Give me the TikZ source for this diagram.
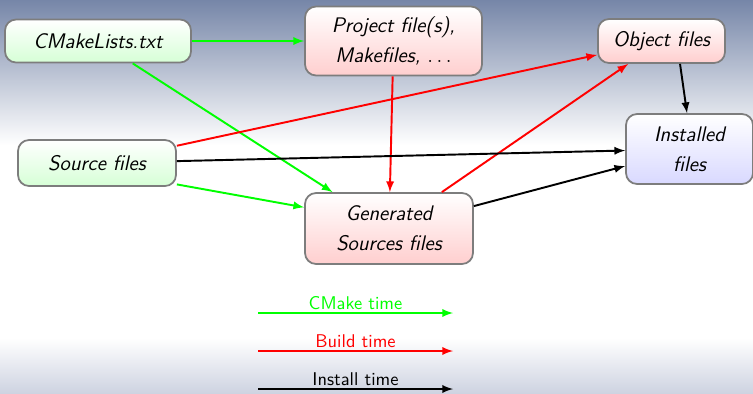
\documentclass[tikz,border=0pt]{standalone}
\usepackage{amsmath}
\usepackage{xcolor}
\usepackage{tikz}
\usetikzlibrary{arrows}
\definecolor{bgtop}{RGB}{118,134,168}
\definecolor{bgbottom}{RGB}{206,211,225}
\definecolor{boxline}{RGB}{125,125,125}

\begin{document}
\begin{tikzpicture}[x=0.02cm,y=-0.02cm,
		file/.style={draw=boxline,line width=1pt,rounded corners=0.22cm,align=center,inner sep=2pt,font=\fontsize{12}{17}\selectfont\sffamily\itshape},
		cmake/.style={file,top color=white,bottom color=green!16},
		build/.style={file,top color=white,bottom color=red!19},
		install/.style={file,top color=white,bottom color=blue!15},
		link/.style={->,>=latex,line width=1.1pt},
		legend/.style={font=\fontsize{10.5}{12}\selectfont\sffamily,above,inner sep=1.5pt}]
		% background
		\useasboundingbox (0,0) rectangle (753,393);
		\fill[top color=bgtop,bottom color=white] (0,0) rectangle (753,145);
		\fill[white] (0,145) rectangle (753,338);
		\fill[top color=white,bottom color=bgbottom] (0,338) rectangle (753,393);
		% files
		\node[cmake,minimum width=3.72cm,minimum height=0.86cm] (cmakelists) at (98,41) {CMakeLists.txt};
		\node[build,minimum width=3.54cm,minimum height=1.38cm] (project) at (393.5,41) {Project file(s),\\ Makefiles, $\ldots$};
		\node[build,minimum width=2.54cm,minimum height=0.88cm] (object) at (661.5,41) {Object files};
		\node[cmake,minimum width=3.16cm,minimum height=0.92cm] (source) at (97,163) {Source files};
		\node[build,minimum width=3.36cm,minimum height=1.42cm] (generated) at (389,228.5) {Generated\\ Sources files};
		\node[install,minimum width=2.54cm,minimum height=1.40cm] (installed) at (689.5,149) {Installed\\ files};
		% cmake time
		\draw[link,green] (cmakelists) -- (project);
		\draw[link,green] (cmakelists) -- (generated);
		\draw[link,green] (source.-15) -- (generated.166);
		% build time
		\draw[link,red] (source) -- (object);
		\draw[link,red] (project) -- (generated);
		\draw[link,red] (generated) -- (object);
		% install time
		\draw[link,black] (source) -- (installed);
		\draw[link,black] (generated) -- (installed);
		\draw[link,black] (object.-51) -- ([xshift=-0.05cm]installed.north);
		% legend
		\coordinate (cmakeA) at (258,313);
		\coordinate (cmakeB) at (453,313);
		\coordinate (buildA) at (258,351);
		\coordinate (buildB) at (453,351);
		\coordinate (installA) at (258,389);
		\coordinate (installB) at (453,389);
		\draw[link,green] (cmakeA) -- node[legend] {CMake time} (cmakeB);
		\draw[link,red] (buildA) -- node[legend] {Build time} (buildB);
		\draw[link,black] (installA) -- node[legend] {Install time} (installB);
	\end{tikzpicture}
\end{document}
